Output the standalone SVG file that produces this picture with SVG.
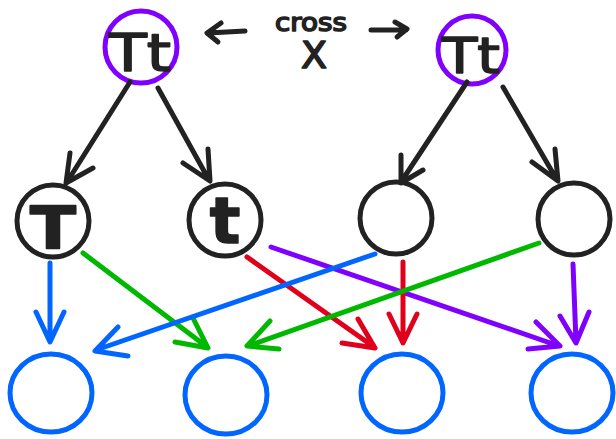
<svg xmlns="http://www.w3.org/2000/svg" width="616" height="439" viewBox="0 0 616 439">
  <style>
    .bg { fill: #ffffff; }
    .parent { fill: none; stroke: #8000ff; stroke-width: 5; }
    .gamete { fill: none; stroke: #222222; stroke-width: 5; }
    .child { fill: none; stroke: #0066ff; stroke-width: 5; }
    .edge { fill: none; stroke-width: 5; stroke-linecap: round; stroke-linejoin: round; }
    .k { stroke: #222222; }
    .b { stroke: #0066ff; }
    .g { stroke: #00b800; }
    .r { stroke: #e0001b; }
    .p { stroke: #8000ff; }
    .lbl { font-family: "DejaVu Sans", "Liberation Sans", sans-serif; fill: #222222; text-anchor: middle; }
    .ink { stroke: #222222; stroke-width: 1.6; stroke-linejoin: round; }
    .big { font-weight: bold; }
  </style>
  <rect class="bg" x="0" y="0" width="616" height="439"/>

  <!-- cross label between parents -->
  <g id="cross">
    <text class="lbl ink" x="311" y="31" font-size="25" textLength="72" lengthAdjust="spacingAndGlyphs">cross</text>
    <text class="lbl ink" x="314" y="68" font-size="38" stroke-width="2.5">X</text>
  </g>

  <!-- parents -->
  <g id="parent-left">
    <circle class="parent" cx="141" cy="47" r="36"/>
    <text class="lbl ink" x="140" y="71" font-size="52" textLength="62" lengthAdjust="spacingAndGlyphs">Tt</text>
  </g>
  <g id="parent-right">
    <circle class="parent" cx="472" cy="50" r="34"/>
    <text class="lbl ink" x="471" y="73" font-size="50" textLength="58" lengthAdjust="spacingAndGlyphs">Tt</text>
  </g>

  <!-- gametes -->
  <g id="gamete-T">
    <circle class="gamete" cx="53" cy="221" r="36"/>
    <text class="lbl big ink" x="53" y="249" font-size="58" textLength="46" lengthAdjust="spacingAndGlyphs">T</text>
  </g>
  <g id="gamete-t">
    <circle class="gamete" cx="225" cy="220" r="36"/>
    <text class="lbl big ink" x="225" y="243" font-size="64">t</text>
  </g>
  <g id="gamete-3">
    <circle class="gamete" cx="396" cy="218" r="36"/>
  </g>
  <g id="gamete-4">
    <circle class="gamete" cx="574" cy="219" r="36"/>
  </g>

  <!-- offspring -->
  <g id="child-1"><ellipse class="child" cx="51" cy="393" rx="41" ry="39"/></g>
  <g id="child-2"><ellipse class="child" cx="226" cy="395" rx="41" ry="39"/></g>
  <g id="child-3"><ellipse class="child" cx="402" cy="393" rx="41" ry="39"/></g>
  <g id="child-4"><ellipse class="child" cx="572" cy="393" rx="41" ry="39"/></g>

  <!-- connectors -->
  <g id="connectors">
    <!-- cross arrows -->
    <path class="edge k" d="M245 31 L208 33 M221 23 L207 33 L218 42"/>
    <path class="edge k" d="M371 30 L406 30 M395 22 L407 29 L397 37"/>

    <!-- parents to gametes -->
    <path class="edge k" d="M130 82 L67 182 M70 153 L66 183 L93 168"/>
    <path class="edge k" d="M158 88 L209 180 M183 163 L210 181 L208 149"/>
    <path class="edge k" d="M467 82 L401 182 M401 155 L401 183 L423 170"/>
    <path class="edge k" d="M503 87 L557 180 M532 162 L558 181 L555 149"/>

    <!-- gametes to offspring -->
    <path class="edge b" d="M50 263 L50 341 M36 312 L50 342 L64 312"/>
    <path class="edge g" d="M83 253 L207 347 M193 318 L208 348 L175 342"/>
    <path class="edge r" d="M247 257 L374 347 M358 319 L375 348 L342 343"/>
    <path class="edge p" d="M271 247 L559 346 M536 322 L560 346 L528 349"/>
    <path class="edge b" d="M375 254 L96 350 M118 327 L95 351 L128 356"/>
    <path class="edge r" d="M403 262 L403 342 M389 314 L403 343 L417 314"/>
    <path class="edge g" d="M539 243 L248 346 M270 321 L247 346 L279 349"/>
    <path class="edge p" d="M573 264 L576 342 M560 316 L576 343 L589 312"/>
  </g>
</svg>
